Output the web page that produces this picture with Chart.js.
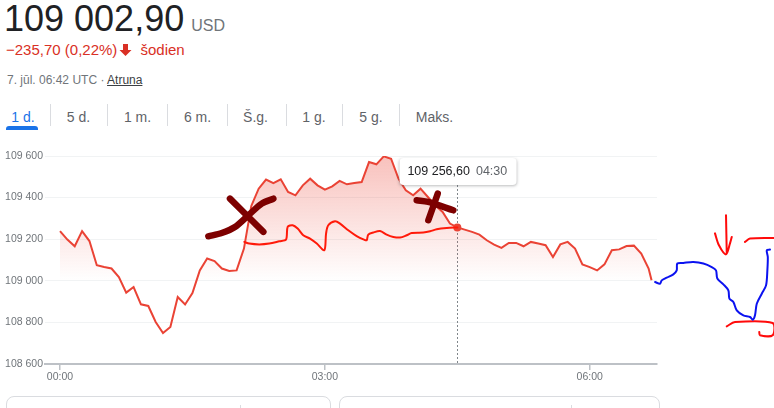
<!DOCTYPE html>
<html>
<head>
<meta charset="utf-8">
<script src="https://cdn.jsdelivr.net/npm/chart.js@4/dist/chart.umd.min.js"></script>
<style>
  body { margin:0; width:774px; height:408px; overflow:hidden; background:#fff;
         font-family: Arial, "Liberation Sans", sans-serif; position:relative; }
  .abs { position:absolute; white-space:nowrap; }
  .price { left:4px; top:-1px; font-size:36px; line-height:40px; color:#202124; }
  .price .cur { font-size:16px; color:#70757a; margin-left:7px; }
  .change { left:6px; top:41px; font-size:15px; line-height:18px; color:#d93025; }
  .change svg { vertical-align:-2px; margin:0 4px 0 2px; }
  .stamp { left:7px; top:73px; font-size:12px; line-height:14px; color:#70757a; }
  .stamp u { color:#3c4043; }
  .tab { top:109px; font-size:14px; line-height:16px; color:#5f6368; transform:translateX(-50%); }
  .tab.on { color:#1a73e8; }
  .sep { top:104px; width:1px; height:22px; background:#dadce0; }
  .bar { left:6px; top:126px; width:32px; height:4px; background:#1a73e8; border-radius:3px 3px 0 0; }
  #wrap { position:absolute; left:0; top:140px; width:774px; height:250px; }
  #tip { position:absolute; background:#fff; border-radius:4px; box-shadow:0 1px 3px rgba(60,64,67,.35);
         font-size:12.5px; line-height:27px; height:27px; padding:0 9px 0 8px; transform:translateX(-50%);
         white-space:nowrap; color:#202124; }
  #tip span { color:#5f6368; margin-left:6px; }
  .card { top:396px; height:30px; border:1px solid #dadce0; border-radius:8px; }
  .tick { top:405px; width:1px; height:5px; background:#dadce0; }
</style>
</head>
<body>
<div class="abs price">109 002,90<span class="cur">USD</span></div>
<div class="abs change">−235,70 (0,22%)<svg width="13" height="14" viewBox="0 0 13 14"><path d="M4 1h5v6h3.5L6.5 13 0.5 7H4z" fill="#d93025"/></svg> šodien</div>
<div class="abs stamp">7. jūl. 06:42 UTC · <u>Atruna</u></div>

<div class="abs tab on" style="left:23px">1 d.</div>
<div class="abs tab" style="left:78.5px">5 d.</div>
<div class="abs tab" style="left:137.5px">1 m.</div>
<div class="abs tab" style="left:197.5px">6 m.</div>
<div class="abs tab" style="left:255.5px">Š.g.</div>
<div class="abs tab" style="left:314px">1 g.</div>
<div class="abs tab" style="left:371px">5 g.</div>
<div class="abs tab" style="left:434.5px">Maks.</div>
<div class="abs sep" style="left:50px"></div>
<div class="abs sep" style="left:107px"></div>
<div class="abs sep" style="left:167px"></div>
<div class="abs sep" style="left:227px"></div>
<div class="abs sep" style="left:286px"></div>
<div class="abs sep" style="left:342px"></div>
<div class="abs sep" style="left:399px"></div>
<div class="abs bar"></div>

<div id="wrap"><canvas id="c"></canvas></div>
<div id="tip" class="abs"></div>

<div class="abs card" style="left:6px;width:323px"></div>
<div class="abs card" style="left:339px;width:319px"></div>
<div class="abs tick" style="left:240px"></div>
<div class="abs tick" style="left:571px"></div>

<script>
// 5-minute prices, 7 July (UTC)
const times = [
  "00:00","00:05","00:10","00:15","00:20","00:25","00:30","00:35","00:40","00:45","00:50","00:55",
  "01:00","01:05","01:10","01:15","01:20","01:25","01:30","01:35","01:40","01:45","01:50","01:55",
  "02:00","02:05","02:10","02:15","02:20","02:25","02:30","02:35","02:40","02:45","02:50","02:55",
  "03:00","03:05","03:10","03:15","03:20","03:25","03:30","03:35","03:40","03:45","03:50","03:55",
  "04:00","04:05","04:10","04:15","04:20","04:25","04:30","04:35","04:40","04:45","04:50","04:55",
  "05:00","05:05","05:10","05:15","05:20","05:25","05:30","05:35","05:40","05:45","05:50","05:55",
  "06:00","06:05","06:10","06:15","06:20","06:25","06:30","06:35","06:40","06:42"
];
const prices = [
  109239,109198,109166,109239,109191,109075,109066,109059,109018,108943,108970,108887,
  108879,108802,108749,108778,108922,108886,108941,109050,109107,109095,109059,109047,
  109050,109155,109360,109443,109487,109470,109488,109427,109411,109459,109491,109459,
  109438,109454,109480,109464,109470,109475,109571,109560,109598,109587,109491,109435,
  109411,109443,109403,109363,109331,109275,109256.6,109246,109235,109222,109195,109174,
  109158,109182,109182,109166,109187,109179,109171,109114,109175,109187,109155,109079,
  109066,109050,109079,109147,109151,109167,109169,109131,109059,109002.9
];
const yTicks = [108600, 108800, 109000, 109200, 109400, 109600];
const xTicks = ["00:00", "03:00", "06:00"];
const hoverTime = "04:30";

// hand-drawn marks on top of the screenshot: [minutes, price]
const drawnLine = [[125.2,109187],[128.6,109179],[135.4,109175],[142.2,109179],[149.0,109190],[153.6,109198],
  [154.7,109259],[158.1,109267],[161.5,109251],[165.3,109219],[169.9,109203],[174.5,109179],[179.6,109147],
  [180.8,109227],[182.3,109267],[186.9,109286],[190.3,109275],[195.9,109243],[201.6,109215],[206.6,109198],
  [208.4,109195],[209.5,109222],[212.9,109232],[217.5,109239],[222.0,109222],[226.5,109211],[231.1,109208],
  [235.6,109219],[239.0,109230],[246.9,109232],[251.5,109238],[256.0,109248],[262.8,109254],[270,109256.6]];
const crossA = [[100.8,109214],[109.9,109230],[118.9,109259],[128.0,109315],[137.1,109371],[145.0,109395]];
const crossB = [[115.5,109395],[138.2,109235]];
const plusA = [[242.4,109387],[250.3,109379],[267.3,109339]];
const plusB = [[256.7,109419],[250.3,109291]];
const blueLine = [[404.4,108994],[407.8,108986],[408.9,109002],[412.3,109015],[416.8,109031],[419.1,109050],
  [419.5,109083],[423.6,109086],[430.4,109090],[437.2,109083],[442.9,109066],[445.8,109050],[446.7,109011],
  [450.8,108983],[454.2,108954],[454.9,108914],[457.6,108898],[459.9,108858],[464.4,108834],[468.9,108826],
  [470.8,108813],[472.3,108834],[473.5,108890],[476.9,108938],[479.8,108978],[480.7,109050],[481.0,109114],
  [480.3,109147],[482.5,109150]];
const arrowShaft = [[452.6,109315],[453.1,109131]];
const arrowHead = [[445.1,109228],[447.8,109171],[452.6,109127],[455.3,109180],[456.5,109211]];
const topBracket = [[465.5,109187],[468.9,109203],[485.2,109206]];
const lowBracket = [[453.1,108781],[458.7,108802],[484.3,108797],[484.3,108738],[475.7,108738],[475.2,108754]];

const toMin = t => +t.slice(0, 2) * 60 + +t.slice(3);
const hh = m => String(Math.floor(m / 60)).padStart(2, '0') + ':' + String(m % 60).padStart(2, '0');
const group = n => String(n).replace(/\B(?=(\d{3})+(?!\d))/g, ' ');
const money = v => { const [i, d] = v.toFixed(2).split('.'); return group(i) + ',' + d; };
const strokes = (...list) => {
  const out = [];
  list.forEach((s, k) => {
    if (k) out.push({ x: s[0][0], y: null });
    s.forEach(p => out.push({ x: p[0], y: p[1] }));
  });
  return out;
};

const hoverIndex = times.indexOf(hoverTime);
const RED = '#ea4335';

const tipPlugin = {
  id: 'tip',
  beforeDatasetsDraw(chart) {
    const pt = chart.getDatasetMeta(0).data[hoverIndex];
    const { ctx, chartArea } = chart;
    ctx.save();
    ctx.strokeStyle = '#80868b';
    ctx.lineWidth = 1;
    ctx.setLineDash([2, 2]);
    ctx.beginPath();
    ctx.moveTo(Math.round(pt.x) + 0.5, chartArea.top + 29);
    ctx.lineTo(Math.round(pt.x) + 0.5, chartArea.bottom);
    ctx.stroke();
    ctx.restore();
  },
  afterDraw(chart) {
    const pt = chart.getDatasetMeta(0).data[hoverIndex];
    const tip = document.getElementById('tip');
    tip.innerHTML = money(prices[hoverIndex]) + '<span>' + times[hoverIndex] + '</span>';
    tip.style.left = (pt.x + 0.5) + 'px';
    tip.style.top = (140 + chart.chartArea.top + 2) + 'px';
  }
};

const markStyle = { pointRadius: 0, fill: false, clip: false, spanGaps: false, tension: 0.3,
  borderCapStyle: 'round', borderJoinStyle: 'round' };

new Chart(document.getElementById('c'), {
  type: 'line',
  data: {
    datasets: [
      {
        data: times.map((t, i) => ({ x: toMin(t), y: prices[i] })),
        borderColor: RED,
        borderWidth: 2,
        tension: 0,
        fill: 'start',
        backgroundColor: c => {
          const { chart } = c;
          const { ctx, chartArea, scales } = chart;
          if (!chartArea) return 'transparent';
          const g = ctx.createLinearGradient(0, chartArea.top, 0, scales.y.getPixelForValue(109000));
          g.addColorStop(0, 'rgba(234,67,53,0.33)');
          g.addColorStop(1, 'rgba(234,67,53,0)');
          return g;
        },
        pointRadius: c => c.dataIndex === hoverIndex ? 4 : 0,
        pointBackgroundColor: RED,
        pointBorderWidth: 0,
        order: 5
      },
      Object.assign({ data: strokes(drawnLine), borderColor: '#ff1a0a', borderWidth: 2, order: 3 }, markStyle),
      Object.assign({ data: strokes(blueLine), borderColor: '#0b12f0', borderWidth: 2, order: 2 }, markStyle),
      Object.assign({ data: strokes(arrowShaft, arrowHead, topBracket, lowBracket), borderColor: '#ff0a0a',
        borderWidth: 2, order: 2 }, markStyle),
      Object.assign({ data: strokes(crossA, crossB, plusA, plusB), borderColor: '#7d0000',
        borderWidth: 6.5, order: 0 }, markStyle)
    ]
  },
  options: {
    responsive: true,
    maintainAspectRatio: false,
    animation: false,
    events: [],
    layout: { padding: { top: 16, right: 117, left: 0, bottom: 0 } },
    plugins: { legend: { display: false }, tooltip: { enabled: false } },
    scales: {
      x: {
        type: 'linear',
        bounds: 'data',
        afterDataLimits: s => { s.min = -10.2; s.max = 405.7; },
        afterBuildTicks: s => { s.ticks = xTicks.map(t => ({ value: toMin(t) })); },
        afterFit: s => { s.height = 26; },
        grid: { drawOnChartArea: false, drawTicks: true, tickLength: 6, color: '#bdc1c6', lineWidth: 1.5 },
        border: { display: true, color: '#bdc1c6', width: 2 },
        ticks: { autoSkip: false, maxRotation: 0, padding: 1, color: '#70757a',
                 font: { family: 'Arial', size: 10.5 }, callback: v => hh(v) }
      },
      y: {
        min: yTicks[0],
        max: yTicks[yTicks.length - 1],
        afterBuildTicks: s => { s.ticks = yTicks.map(v => ({ value: v })); },
        afterFit: s => { s.width = 45; },
        grid: { color: '#f1f3f4', drawTicks: false },
        border: { display: false },
        ticks: { padding: 2, color: '#70757a', font: { family: 'Arial', size: 10.5 }, callback: v => group(v) }
      }
    }
  },
  plugins: [tipPlugin]
});
</script>
</body>
</html>
